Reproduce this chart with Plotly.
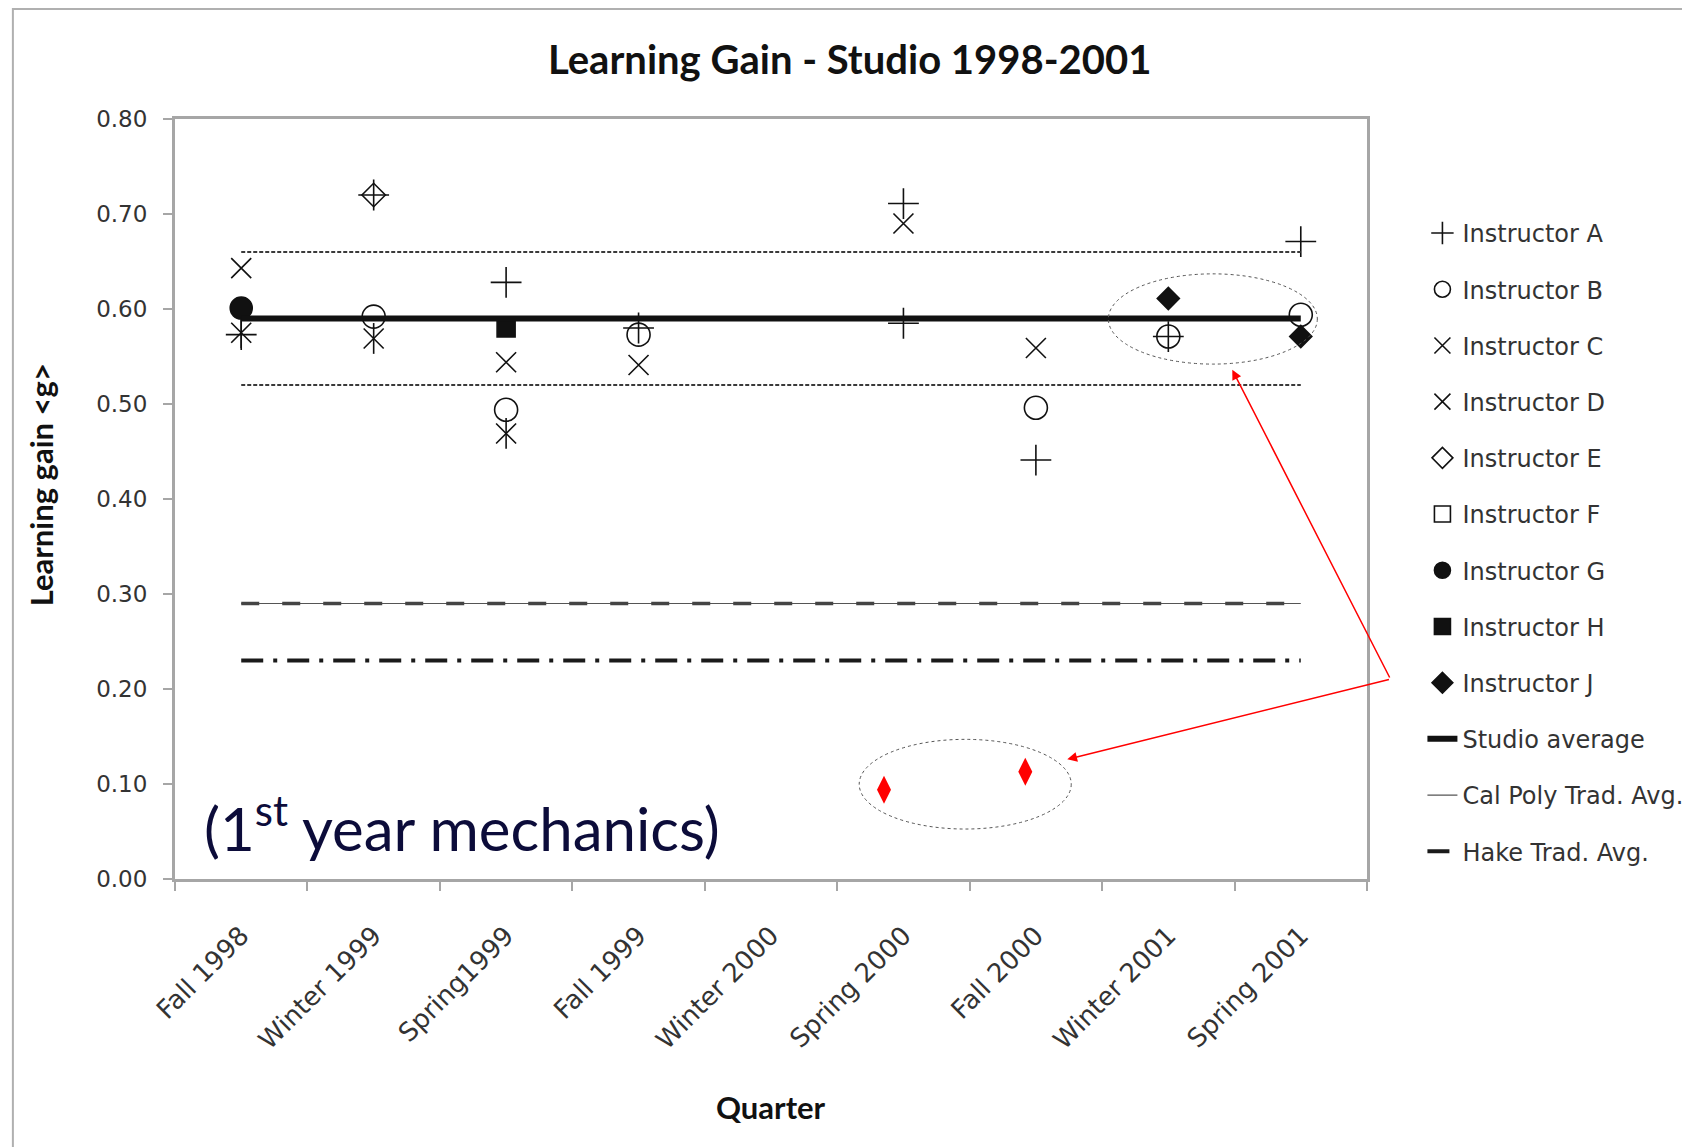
import plotly.graph_objects as go

# ---------------- data ----------------
quarters = ["Fall 1998", "Winter 1999", "Spring1999", "Fall 1999", "Winter 2000",
            "Spring 2000", "Fall 2000", "Winter 2001", "Spring 2001"]

a_quarters = ["Fall 1998", "Winter 1999", "Spring1999", "Fall 1999", "Spring 2000",
              "Spring 2000", "Fall 2000", "Winter 2001", "Spring 2001"]
a_gain = [0.573, 0.72, 0.628, 0.58, 0.711, 0.585, 0.441, 0.571, 0.671]

b_quarters = ["Winter 1999", "Spring1999", "Fall 1999", "Fall 2000", "Winter 2001", "Spring 2001"]
b_gain = [0.592, 0.494, 0.573, 0.496, 0.571, 0.594]

c_quarters = ["Fall 1998", "Spring1999", "Fall 1999", "Spring 2000", "Fall 2000"]
c_gain = [0.643, 0.544, 0.541, 0.69, 0.559]

d_quarters = ["Fall 1998", "Winter 1999", "Spring1999"]
d_gain = [0.575, 0.569, 0.469]

e_quarters = ["Winter 1999"]
e_gain = [0.72]

f_quarters = []
f_gain = []

g_quarters = ["Fall 1998"]
g_gain = [0.601]

h_quarters = ["Spring1999"]
h_gain = [0.58]

j_quarters = ["Winter 2001", "Spring 2001"]
j_gain = [0.611, 0.571]

studio_avg = 0.59
studio_upper = 0.66
studio_lower = 0.52
calpoly_avg = 0.29
hake_avg = 0.23

# red diamonds (position along quarter axis, gain)
red_pos = [4.853, 5.92]
red_gain = [0.094, 0.113]

y_ticks = [0.0, 0.1, 0.2, 0.3, 0.4, 0.5, 0.6, 0.7, 0.8]

# ---------------- figure ----------------
idx = {q: i for i, q in enumerate(quarters)}
def xs(qs):
    return [idx[q] for q in qs]

LEG_FONT = "DejaVu Sans"
TITLE_FONT = "Lato"
BLACK = "#111111"

fig = go.Figure()

def marker_trace(name, qs, vals, symbol, size, group, showlegend=True):
    x = xs(qs) if qs else [None]
    y = vals if vals else [None]
    m = dict(symbol=symbol, size=size, color=BLACK,
             line=dict(color=BLACK, width=1.6))
    fig.add_trace(go.Scatter(x=x, y=y, mode="markers", name=name, marker=m,
                             legendgroup=group, showlegend=showlegend,
                             cliponaxis=False))

marker_trace("Instructor A", a_quarters, a_gain, "cross-thin-open", 22, "A")
marker_trace("Instructor B", b_quarters, b_gain, "circle-open", 23, "B")
marker_trace("Instructor C", c_quarters, c_gain, "x-thin-open", 20, "C")
marker_trace("Instructor D", d_quarters, d_gain, "x-thin-open", 20, "D")
marker_trace("Instructor D", d_quarters, d_gain, "line-ns-open", 22, "D", showlegend=False)
marker_trace("Instructor E", e_quarters, e_gain, "diamond-open", 18, "E")
marker_trace("Instructor F", f_quarters, f_gain, "square-open", 18, "F")
marker_trace("Instructor G", g_quarters, g_gain, "circle", 22, "G")
marker_trace("Instructor H", h_quarters, h_gain, "square", 18, "H")
marker_trace("Instructor J", j_quarters, j_gain, "diamond", 17, "J")

x_span = [0, len(quarters) - 1]

# dotted band lines
for v in [studio_upper, studio_lower]:
    fig.add_trace(go.Scatter(x=x_span, y=[v, v], mode="lines", showlegend=False,
                             line=dict(color="#3a3a3a", width=2, dash="4px,2px"),
                             hoverinfo="skip"))

fig.add_trace(go.Scatter(x=x_span, y=[studio_avg, studio_avg], mode="lines",
                         name="Studio average", legendgroup="S",
                         line=dict(color=BLACK, width=6)))
fig.add_trace(go.Scatter(x=x_span, y=[calpoly_avg, calpoly_avg], mode="lines",
                         name="Cal Poly Trad. Avg.", legendgroup="CP",
                         line=dict(color="#555555", width=1.2)))
fig.add_trace(go.Scatter(x=x_span, y=[calpoly_avg, calpoly_avg], mode="lines",
                         showlegend=False, legendgroup="CP",
                         line=dict(color="#444444", width=3.5, dash="18px,23px")))
fig.add_trace(go.Scatter(x=x_span, y=[hake_avg, hake_avg], mode="lines",
                         name="Hake Trad. Avg.", legendgroup="HK",
                         line=dict(color="#1a1a1a", width=4, dash="22px,10px,4px,10px")))

fig.add_trace(go.Scatter(x=red_pos, y=red_gain, mode="markers", showlegend=False,
                         marker=dict(symbol="diamond-tall", size=20, color="#ff0000",
                                     line=dict(width=0))))

# ellipses
fig.add_shape(type="circle", xref="x", yref="y", x0=6.547, x1=8.125, y0=0.542, y1=0.637,
              line=dict(color="#555555", width=1, dash="dot"))
fig.add_shape(type="circle", xref="x", yref="y", x0=4.666, x1=6.267, y0=0.0526, y1=0.147,
              line=dict(color="#555555", width=1, dash="dot"))

# outer chart border
fig.add_shape(type="rect", xref="paper", yref="paper", x0=-0.136, x1=1.2685, y0=-0.4, y1=1.1447,
              line=dict(color="#b0b0b0", width=2), layer="below")

# red arrows
for hx, hy in [(7.483, 0.536), (6.237, 0.126)]:
    fig.add_annotation(x=hx, y=hy, ax=8.677, ay=0.2105, xref="x", yref="y",
                       axref="x", ayref="y", showarrow=True, arrowhead=2,
                       arrowsize=1.3, arrowwidth=1.5, arrowcolor="#ff0000",
                       standoff=0, text="")

fig.add_annotation(x=-0.296, y=0.057, xref="x", yref="y", xanchor="left", yanchor="middle",
                   text="(1<sup>st</sup> year mechanics)", showarrow=False,
                   font=dict(family=TITLE_FONT, size=60, color="#0c0c3a"))

fig.add_annotation(x=0.566, y=1.079, xref="paper", yref="paper",
                   xanchor="center", yanchor="middle",
                   text="<b>Learning Gain - Studio 1998-2001</b>", showarrow=False,
                   font=dict(family=TITLE_FONT, size=40, color="#111111"))
fig.add_annotation(x=0.5, y=-0.3, xref="paper", yref="paper",
                   xanchor="center", yanchor="middle",
                   text="<b>Quarter</b>", showarrow=False,
                   font=dict(family=TITLE_FONT, size=31, color="#111111"))
fig.add_annotation(x=-0.1124, y=0.518, xref="paper", yref="paper", textangle=-90,
                   xanchor="center", yanchor="middle",
                   text="<b>Learning gain &lt;g&gt;</b>", showarrow=False,
                   font=dict(family=TITLE_FONT, size=31, color="#111111"))

fig.update_layout(
    width=1682, height=1139,
    margin=dict(l=167, r=323, t=111, b=268, autoexpand=False),
    paper_bgcolor="white", plot_bgcolor="white",
    showlegend=True,
    legend=dict(x=1.0465, y=0.879, xanchor="left", yanchor="top",
                font=dict(family=LEG_FONT, size=24, color="#333333"),
                tracegroupgap=22, bgcolor="rgba(0,0,0,0)", traceorder="grouped"),
    xaxis=dict(range=[-0.5, len(quarters) - 0.5], tickmode="array",
               tickvals=list(range(len(quarters))), ticktext=quarters,
               tickangle=-45, ticks="", showgrid=False, zeroline=False,
               showline=True, mirror=True, linecolor="#a6a6a6", linewidth=3,
               tickfont=dict(family=LEG_FONT, size=26, color="#333333"),
               ticklabelstandoff=28,
               minor=dict(tickmode="linear", tick0=-0.5, dtick=1, ticks="outside",
                          ticklen=9, tickwidth=2, tickcolor="#a6a6a6", showgrid=False)),
    yaxis=dict(range=[0, 0.8], tickmode="array", tickvals=y_ticks,
               tickformat=".2f", ticks="outside", ticklen=9, tickwidth=2,
               tickcolor="#a6a6a6", showgrid=False, zeroline=False,
               showline=True, mirror=True, linecolor="#a6a6a6", linewidth=3,
               ticklabelstandoff=11,
               tickfont=dict(family=LEG_FONT, size=23, color="#333333")),
)

fig.write_html("out.html")
